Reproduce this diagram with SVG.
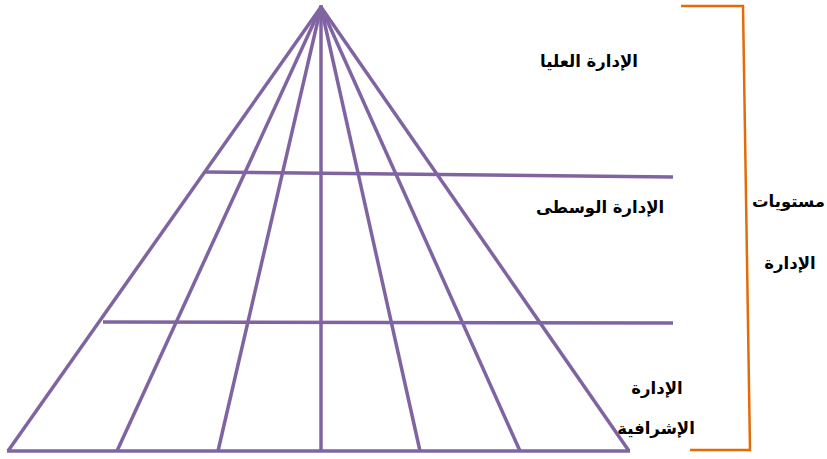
<svg xmlns="http://www.w3.org/2000/svg" width="827" height="459" viewBox="0 0 827 459">
<style>
.p{stroke:#8064A2;stroke-width:3.5;fill:none;stroke-linecap:butt}
.o{stroke:#E36C0A;stroke-width:2.5;fill:none}
.t{font-family:"DejaVu Sans",sans-serif;font-size:16.5px;font-weight:bold;fill:#000}
</style>
<rect width="827" height="459" fill="#fff"/>
<g id="connectors">
<g id="pyramid">
<line class="p" x1="321" y1="7" x2="8" y2="451"/>
<line class="p" x1="321" y1="7" x2="117" y2="451"/>
<line class="p" x1="321" y1="7" x2="218" y2="451"/>
<line class="p" x1="321" y1="5" x2="321" y2="451"/>
<line class="p" x1="321" y1="7" x2="420" y2="451"/>
<line class="p" x1="321" y1="7" x2="520" y2="451"/>
<line class="p" x1="321" y1="7" x2="629" y2="451"/>
<line class="p" x1="205" y1="172" x2="673" y2="177"/>
<line class="p" x1="103" y1="322" x2="673" y2="323"/>
<line class="p" x1="7" y1="451" x2="630" y2="451"/>
</g>
<polyline id="bracket" class="o" points="681,6 743,6 750,450 690,450"/>
</g>
<g id="top"><text class="t" x="589" y="67" text-anchor="middle">الإدارة العليا</text></g>
<g id="middle"><text class="t" x="600" y="213" text-anchor="middle">الإدارة الوسطى</text></g>
<g id="lower"><text class="t" x="657" y="394" text-anchor="middle">الإدارة</text><text class="t" x="656" y="434" text-anchor="middle">الإشرافية</text></g>
<g id="levels"><text class="t" x="825" y="207" text-anchor="end">مستويات</text><text class="t" x="790" y="269" text-anchor="middle">الإدارة</text></g>
</svg>
